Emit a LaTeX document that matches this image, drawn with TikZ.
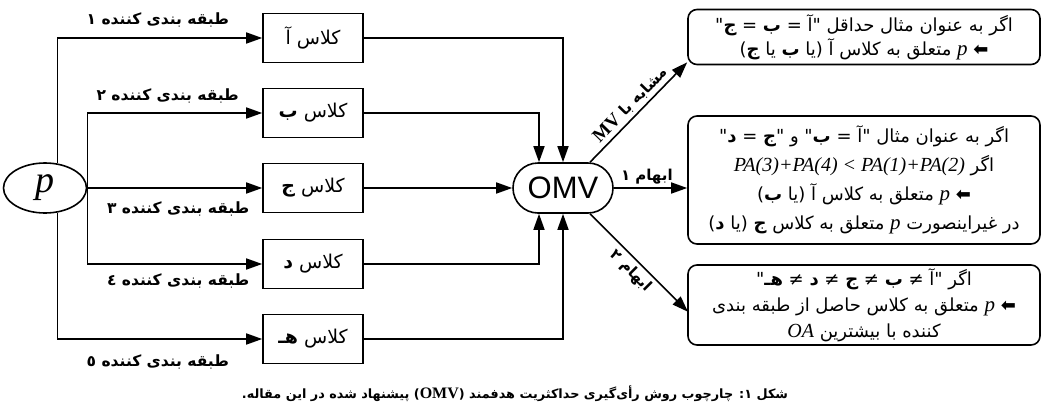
\documentclass[tikz,border=0pt]{standalone}
\usepackage{fontspec}
\setmainfont{Liberation Serif}
\newfontfamily\ar[Script=Arabic]{DejaVu Sans}
\newfontfamily\dv{DejaVu Sans}
\newfontfamily\lsans{Liberation Sans}
\newfontfamily\lser{Liberation Serif}
\TeXXeTstate=1
\usetikzlibrary{arrows.meta,shapes.geometric,calc}
\newcommand{\RL}[1]{\beginR #1\endR}
\newcommand{\pp}{{\lser\itshape\fontsize{21}{21}\selectfont p}}
\newcommand{\larr}{{\dv\bfseries ⬅}}
\newcommand{\B}[1]{{\bfseries #1}}
\begin{document}
\begin{tikzpicture}[x=1pt,y=-1pt,
  arr/.style={line width=1.6pt,-{Triangle[length=16pt,width=11pt]}},
  cls/.style={draw,line width=1.6pt,minimum width=100pt,minimum height=49pt,inner sep=0pt,font=\ar\fontsize{19}{22}\selectfont},
  res/.style={draw,line width=1.6pt,rounded corners=9pt,minimum width=352pt,align=center,inner sep=0pt,font=\ar\fontsize{18}{29}\selectfont},
  lbl/.style={font=\ar\bfseries\fontsize{15.5}{18}\selectfont,inner sep=0pt},
  elbl/.style={font=\ar\bfseries\fontsize{15}{18}\selectfont,inner sep=3pt}]
\useasboundingbox (0,0) rectangle (1043,410);
% input
\node[draw,ellipse,line width=1.6pt,minimum width=83pt,minimum height=50pt,inner sep=0pt,font=\lser\itshape\fontsize{38}{38}\selectfont] (p) at (45,188) {p};
% class boxes
\node[cls] (A) at (313,38) {\RL{کلاس آ}};
\node[cls] (Bx) at (313,113) {\RL{کلاس \B{ب}}};
\node[cls] (C) at (313,188) {\RL{کلاس \B{ج}}};
\node[cls] (D) at (313,264) {\RL{کلاس \B{د}}};
\node[cls] (E) at (313,339) {\RL{کلاس \B{هـ}}};
% OMV
\node[draw,line width=1.6pt,rounded corners=25pt,minimum width=100pt,minimum height=50pt,inner sep=0pt,font=\lsans\fontsize{31}{32}\selectfont] (omv) at (563,188) {OMV};
% result boxes
\node[res,minimum height=55pt] (r1) at (864,37) {\RL{اگر به عنوان مثال حداقل "آ = \B{ب} = \B{ج}"}\\[-5pt]
\RL{\larr\ \pp\ متعلق به کلاس آ (یا \B{ب} یا \B{ج})}};
\node[res,minimum height=128pt] (r2) at (864,180) {\RL{اگر به عنوان مثال "آ = \B{ب}" و "\B{ج} = \B{د}"}\\
\RL{اگر \beginL{\lser\itshape\fontsize{20}{20}\selectfont PA(3)+PA(4) < PA(1)+PA(2)}\endL}\\
\RL{\larr\ \pp\ متعلق به کلاس آ (یا \B{ب})}\\
\RL{در غیراینصورت \pp\ متعلق به کلاس \B{ج} (یا \B{د})}};
\node[res,minimum height=80pt] (r3) at (864,305) {\RL{اگر "آ ≠ \B{ب} ≠ \B{ج} ≠ \B{د} ≠ \B{هـ}"}\\[-3pt]
\RL{\larr\ \pp\ متعلق به کلاس حاصل از طبقه بندی}\\[-3pt]
\RL{کننده با بیشترین {\lser\itshape\fontsize{20}{20}\selectfont OA}}};
% connectors from p
\draw[arr] (p.63) |- node[lbl,pos=0.745,yshift=18pt]{\RL{طبقه بندی کننده ١}} (A.west);
\draw[arr] (p.east) |- node[lbl,pos=0.73,yshift=17pt]{\RL{طبقه بندی کننده ٢}} (Bx.west);
\draw[arr] (p.east) -- node[lbl,pos=0.52,yshift=-21pt]{\RL{طبقه بندی کننده ٣}} (C.west);
\draw[arr] (p.east) |- node[lbl,pos=0.76,yshift=-17pt]{\RL{طبقه بندی کننده ٤}} (D.west);
\draw[arr] (p.-63) |- node[lbl,pos=0.745,yshift=-23pt]{\RL{طبقه بندی کننده ٥}} (E.west);
% to OMV
\draw[arr] (A.east) -| (omv.north);
\draw[arr] (Bx.east) -| ($(omv.north)+(-24,0)$);
\draw[arr] (C.east) -- (omv.west);
\draw[arr] (D.east) -| ($(omv.south)+(-24,0)$);
\draw[arr] (E.east) -| (omv.south);
% from OMV
\draw[arr] ($(omv.north)+(27,0)$) -- node[elbl,sloped,above,pos=0.5]{\RL{مشابه با {\lser\fontsize{19}{20}\selectfont MV}}} ($(r1.south west)+(0,-3)$);
\draw[arr] (omv.east) -- node[elbl,above,pos=0.45]{\RL{ابهام ١}} (omv.east -| r2.west);
\draw[arr] ($(omv.south)+(27,0)$) -- node[elbl,sloped,below,pos=0.5]{\RL{ابهام ٢}} ($(omv.south)+(125,98)$);
% caption
\node[font=\ar\bfseries\fontsize{12.8}{16}\selectfont] (cap) at (515,394) {\RL{شکل ١: چارچوب روش رأی‌گیری حداکثریت هدفمند ({\lser\bfseries\fontsize{16}{18}\selectfont OMV}) پیشنهاد شده در این مقاله.}};
\end{tikzpicture}
\end{document}
